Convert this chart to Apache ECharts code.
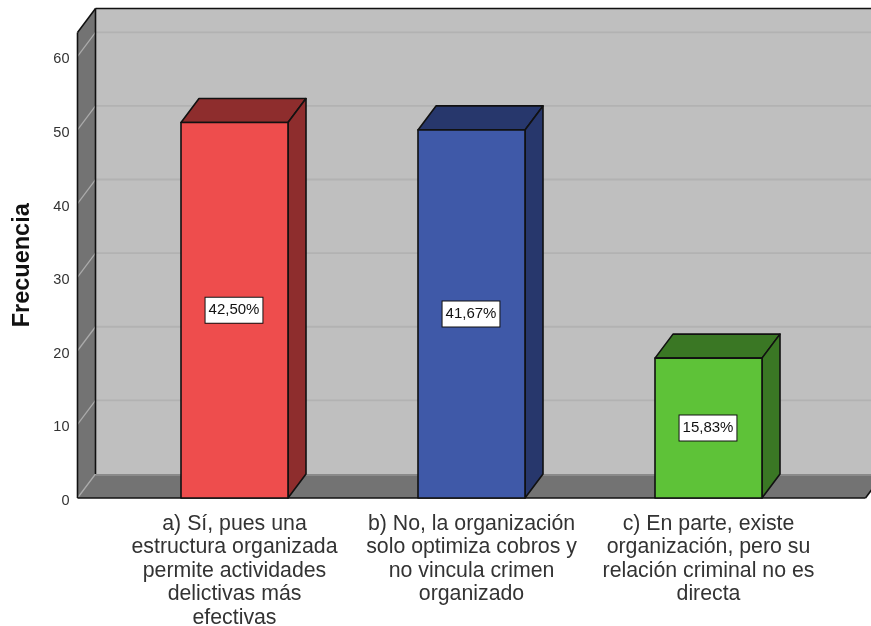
<!DOCTYPE html>
<html>
<head>
<meta charset="utf-8">
<style>
  html, body { margin: 0; padding: 0; background: #fff; }
  #chart { width: 871px; height: 626px; }
</style>
<script src="https://cdn.jsdelivr.net/npm/echarts@6/dist/echarts.min.js"></script>
</head>
<body>
<div id="chart"></div>
<script>
const categories = [
  "a) Sí, pues una\nestructura organizada\npermite actividades\ndelictivas más\nefectivas",
  "b) No, la organización\nsolo optimiza cobros y\nno vincula crimen\norganizado",
  "c) En parte, existe\norganización, pero su\nrelación criminal no es\ndirecta"
]
const frequencies = [51, 50, 19]
const percentLabels = ["42,50%", "41,67%", "15,83%"]
const yTicks = [0, 10, 20, 30, 40, 50, 60]
const frontColors = ["#EE4D4D", "#3F59A8", "#5EC238"]
const sideColors = ["#8E2D2D", "#27376C", "#3A7724"]

// fake 3d depth, in pixels
const depthX = 18
const depthY = -24
const wallExtra = 38.5
const edge = { stroke: "#111", lineWidth: 1.6, lineJoin: "round" }

const myChart = echarts.init(document.getElementById("chart"))

function poly(points, fill, withEdge) {
  return {
    type: "polygon",
    shape: { points },
    style: withEdge ? { fill, ...edge } : { fill }
  }
}

function line(x1, y1, x2, y2, stroke, lineWidth) {
  return {
    type: "line",
    shape: { x1, y1, x2, y2 },
    style: { stroke, lineWidth }
  }
}

function renderWalls(params, api) {
  const sys = params.coordSys
  const left = sys.x - wallExtra
  const right = sys.x + sys.width + wallExtra
  const top = sys.y
  const bottom = sys.y + sys.height
  const children = [
    poly([[left + depthX, top + depthY], [right + depthX, top + depthY], [right + depthX, bottom + depthY], [left + depthX, bottom + depthY]], "#BFBFBF"),
    poly([[left, top], [left + depthX, top + depthY], [left + depthX, bottom + depthY], [left, bottom]], "#737373"),
    poly([[left, bottom], [left + depthX, bottom + depthY], [right + depthX, bottom + depthY], [right, bottom]], "#737373"),
    line(left + depthX, bottom + depthY + 1, right + depthX, bottom + depthY + 1, "#8A8A8A", 2)
  ]
  yTicks.forEach((v) => {
    const y = api.coord([0, v])[1]
    children.push(line(left, y, left + depthX, y + depthY, "#ABABAB", 1.3))
    if (v > 0) children.push(line(left + depthX, y + depthY, right + depthX, y + depthY, "#B2B2B2", 1.8))
  })
  children.push(line(left, top, left, bottom, "#111", 1.6))
  children.push(line(left, top, left + depthX, top + depthY, "#111", 1.6))
  children.push(line(left + depthX, top + depthY, right + depthX, top + depthY, "#111", 1.6))
  children.push(line(left + depthX, top + depthY, left + depthX, bottom + depthY, "#111", 1.6))
  children.push(line(left, bottom, right, bottom, "#111", 1.6))
  children.push(line(right, bottom, right + depthX, bottom + depthY, "#111", 1.6))
  return { type: "group", children }
}

function renderBar(params, api) {
  const i = api.value(0)
  const top = api.coord([i, api.value(1)])
  const base = api.coord([i, 0])
  const w = api.size([1, 0])[0] * 0.4515
  const x0 = top[0] - w / 2
  const x1 = top[0] + w / 2
  const y0 = top[1]
  const y1 = base[1]
  return {
    type: "group",
    children: [
      poly([[x0, y0], [x0 + depthX, y0 + depthY], [x1 + depthX, y0 + depthY], [x1, y0]], sideColors[i], true),
      poly([[x1, y0], [x1 + depthX, y0 + depthY], [x1 + depthX, y1 + depthY], [x1, y1]], sideColors[i], true),
      poly([[x0, y0], [x1, y0], [x1, y1], [x0, y1]], frontColors[i], true),
      {
        type: "text",
        style: {
          x: top[0] - 0.5,
          y: (y0 + y1) / 2,
          text: percentLabels[i],
          align: "center",
          verticalAlign: "middle",
          fill: "#111",
          font: '15px "Liberation Sans"',
          backgroundColor: "#fff",
          borderColor: "#111",
          borderWidth: 1,
          padding: [5, 3, 5, 3]
        }
      }
    ]
  }
}

const option = {
  animation: false,
  grid: { left: 116, right: 44, top: 32.5, bottom: 128, outerBoundsMode: "none" },
  xAxis: {
    type: "category",
    data: categories,
    axisTick: { show: false },
    axisLine: { show: false },
    axisLabel: {
      interval: 0,
      margin: 14,
      color: "#333",
      fontFamily: "Liberation Sans",
      fontSize: 21.3,
      lineHeight: 23.5
    }
  },
  yAxis: {
    type: "value",
    min: 0,
    max: 63.23,
    interval: 10,
    offset: 38.5,
    name: "Frecuencia",
    nameLocation: "middle",
    nameRotate: 90,
    nameGap: 42.5,
    nameTextStyle: { color: "#111", fontFamily: "Liberation Sans", fontSize: 23.5, fontWeight: "bold" },
    axisLine: { show: false },
    axisTick: { show: false },
    splitLine: { show: false },
    axisLabel: {
      showMaxLabel: false,
      margin: 8,
      verticalAlign: "top",
      lineHeight: 6,
      color: "#333",
      fontFamily: "Liberation Sans",
      fontSize: 14.5
    }
  },
  series: [
    { type: "custom", renderItem: renderWalls, data: [0], silent: true, z: 1 },
    {
      type: "custom",
      renderItem: renderBar,
      data: frequencies.map((v, i) => [i, v]),
      encode: { x: 0, y: 1 },
      z: 2
    }
  ]
}

myChart.setOption(option)
</script>
</body>
</html>
